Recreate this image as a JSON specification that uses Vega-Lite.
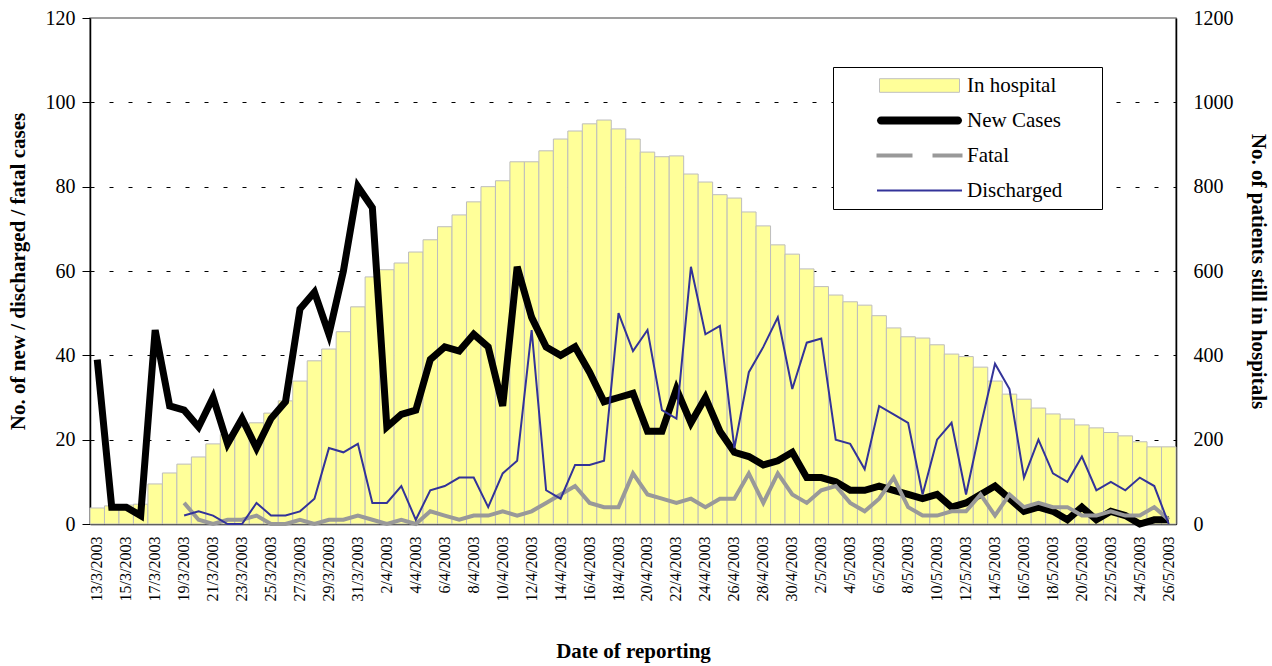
{
  "$schema": "https://vega.github.io/schema/vega-lite/v6.json",
  "width": 1086,
  "height": 506,
  "autosize": {"type": "none"},
  "padding": {"left": 90, "top": 18, "right": 96, "bottom": 142},
  "background": "white",
  "config": {
    "font": "Liberation Serif",
    "view": {"stroke": "#808080", "strokeWidth": 1.5},
    "axis": {"labelFont": "Liberation Serif", "titleFont": "Liberation Serif", "labelColor": "black", "titleColor": "black", "domainColor": "black", "tickColor": "black", "domainWidth": 1.5}
  },
  "data": {
    "values": [
      {"date": "13/3/2003", "hospital": 38, "newCases": 39, "fatal": null, "discharged": null},
      {"date": "14/3/2003", "hospital": 43, "newCases": 4, "fatal": null, "discharged": null},
      {"date": "15/3/2003", "hospital": 45, "newCases": 4, "fatal": null, "discharged": null},
      {"date": "16/3/2003", "hospital": 47, "newCases": 2, "fatal": null, "discharged": null},
      {"date": "17/3/2003", "hospital": 95, "newCases": 46, "fatal": null, "discharged": null},
      {"date": "18/3/2003", "hospital": 121, "newCases": 28, "fatal": null, "discharged": null},
      {"date": "19/3/2003", "hospital": 142, "newCases": 27, "fatal": 5, "discharged": 2},
      {"date": "20/3/2003", "hospital": 159, "newCases": 23, "fatal": 1, "discharged": 3},
      {"date": "21/3/2003", "hospital": 190, "newCases": 30, "fatal": 0, "discharged": 2},
      {"date": "22/3/2003", "hospital": 212, "newCases": 19, "fatal": 1, "discharged": 0},
      {"date": "23/3/2003", "hospital": 230, "newCases": 25, "fatal": 1, "discharged": 0},
      {"date": "24/3/2003", "hospital": 240, "newCases": 18, "fatal": 2, "discharged": 5},
      {"date": "25/3/2003", "hospital": 263, "newCases": 25, "fatal": 0, "discharged": 2},
      {"date": "26/3/2003", "hospital": 292, "newCases": 29, "fatal": 0, "discharged": 2},
      {"date": "27/3/2003", "hospital": 339, "newCases": 51, "fatal": 1, "discharged": 3},
      {"date": "28/3/2003", "hospital": 387, "newCases": 55, "fatal": 0, "discharged": 6},
      {"date": "29/3/2003", "hospital": 415, "newCases": 45, "fatal": 1, "discharged": 18},
      {"date": "30/3/2003", "hospital": 456, "newCases": 60, "fatal": 1, "discharged": 17},
      {"date": "31/3/2003", "hospital": 515, "newCases": 80, "fatal": 2, "discharged": 19},
      {"date": "1/4/2003", "hospital": 586, "newCases": 75, "fatal": 1, "discharged": 5},
      {"date": "2/4/2003", "hospital": 603, "newCases": 23, "fatal": 0, "discharged": 5},
      {"date": "3/4/2003", "hospital": 619, "newCases": 26, "fatal": 1, "discharged": 9},
      {"date": "4/4/2003", "hospital": 645, "newCases": 27, "fatal": 0, "discharged": 1},
      {"date": "5/4/2003", "hospital": 674, "newCases": 39, "fatal": 3, "discharged": 8},
      {"date": "6/4/2003", "hospital": 705, "newCases": 42, "fatal": 2, "discharged": 9},
      {"date": "7/4/2003", "hospital": 733, "newCases": 41, "fatal": 1, "discharged": 11},
      {"date": "8/4/2003", "hospital": 764, "newCases": 45, "fatal": 2, "discharged": 11},
      {"date": "9/4/2003", "hospital": 800, "newCases": 42, "fatal": 2, "discharged": 4},
      {"date": "10/4/2003", "hospital": 814, "newCases": 28, "fatal": 3, "discharged": 12},
      {"date": "11/4/2003", "hospital": 859, "newCases": 61, "fatal": 2, "discharged": 15},
      {"date": "12/4/2003", "hospital": 859, "newCases": 49, "fatal": 3, "discharged": 46},
      {"date": "13/4/2003", "hospital": 885, "newCases": 42, "fatal": 5, "discharged": 8},
      {"date": "14/4/2003", "hospital": 913, "newCases": 40, "fatal": 7, "discharged": 6},
      {"date": "15/4/2003", "hospital": 932, "newCases": 42, "fatal": 9, "discharged": 14},
      {"date": "16/4/2003", "hospital": 949, "newCases": 36, "fatal": 5, "discharged": 14},
      {"date": "17/4/2003", "hospital": 958, "newCases": 29, "fatal": 4, "discharged": 15},
      {"date": "18/4/2003", "hospital": 937, "newCases": 30, "fatal": 4, "discharged": 50},
      {"date": "19/4/2003", "hospital": 913, "newCases": 31, "fatal": 12, "discharged": 41},
      {"date": "20/4/2003", "hospital": 882, "newCases": 22, "fatal": 7, "discharged": 46},
      {"date": "21/4/2003", "hospital": 871, "newCases": 22, "fatal": 6, "discharged": 27},
      {"date": "22/4/2003", "hospital": 873, "newCases": 32, "fatal": 5, "discharged": 25},
      {"date": "23/4/2003", "hospital": 830, "newCases": 24, "fatal": 6, "discharged": 61},
      {"date": "24/4/2003", "hospital": 811, "newCases": 30, "fatal": 4, "discharged": 45},
      {"date": "25/4/2003", "hospital": 781, "newCases": 22, "fatal": 6, "discharged": 47},
      {"date": "26/4/2003", "hospital": 773, "newCases": 17, "fatal": 6, "discharged": 18},
      {"date": "27/4/2003", "hospital": 740, "newCases": 16, "fatal": 12, "discharged": 36},
      {"date": "28/4/2003", "hospital": 707, "newCases": 14, "fatal": 5, "discharged": 42},
      {"date": "29/4/2003", "hospital": 662, "newCases": 15, "fatal": 12, "discharged": 49},
      {"date": "30/4/2003", "hospital": 640, "newCases": 17, "fatal": 7, "discharged": 32},
      {"date": "1/5/2003", "hospital": 605, "newCases": 11, "fatal": 5, "discharged": 43},
      {"date": "2/5/2003", "hospital": 563, "newCases": 11, "fatal": 8, "discharged": 44},
      {"date": "3/5/2003", "hospital": 543, "newCases": 10, "fatal": 9, "discharged": 20},
      {"date": "4/5/2003", "hospital": 527, "newCases": 8, "fatal": 5, "discharged": 19},
      {"date": "5/5/2003", "hospital": 519, "newCases": 8, "fatal": 3, "discharged": 13},
      {"date": "6/5/2003", "hospital": 494, "newCases": 9, "fatal": 6, "discharged": 28},
      {"date": "7/5/2003", "hospital": 465, "newCases": 8, "fatal": 11, "discharged": 26},
      {"date": "8/5/2003", "hospital": 444, "newCases": 7, "fatal": 4, "discharged": 24},
      {"date": "9/5/2003", "hospital": 441, "newCases": 6, "fatal": 2, "discharged": 7},
      {"date": "10/5/2003", "hospital": 425, "newCases": 7, "fatal": 2, "discharged": 20},
      {"date": "11/5/2003", "hospital": 403, "newCases": 4, "fatal": 3, "discharged": 24},
      {"date": "12/5/2003", "hospital": 397, "newCases": 5, "fatal": 3, "discharged": 7},
      {"date": "13/5/2003", "hospital": 372, "newCases": 7, "fatal": 7, "discharged": 23},
      {"date": "14/5/2003", "hospital": 339, "newCases": 9, "fatal": 2, "discharged": 38},
      {"date": "15/5/2003", "hospital": 308, "newCases": 6, "fatal": 7, "discharged": 32},
      {"date": "16/5/2003", "hospital": 296, "newCases": 3, "fatal": 4, "discharged": 11},
      {"date": "17/5/2003", "hospital": 275, "newCases": 4, "fatal": 5, "discharged": 20},
      {"date": "18/5/2003", "hospital": 261, "newCases": 3, "fatal": 4, "discharged": 12},
      {"date": "19/5/2003", "hospital": 249, "newCases": 1, "fatal": 4, "discharged": 10},
      {"date": "20/5/2003", "hospital": 235, "newCases": 4, "fatal": 2, "discharged": 16},
      {"date": "21/5/2003", "hospital": 228, "newCases": 1, "fatal": 2, "discharged": 8},
      {"date": "22/5/2003", "hospital": 217, "newCases": 3, "fatal": 3, "discharged": 10},
      {"date": "23/5/2003", "hospital": 209, "newCases": 2, "fatal": 2, "discharged": 8},
      {"date": "24/5/2003", "hospital": 195, "newCases": 0, "fatal": 2, "discharged": 11},
      {"date": "25/5/2003", "hospital": 183, "newCases": 1, "fatal": 4, "discharged": 9},
      {"date": "26/5/2003", "hospital": 183, "newCases": 1, "fatal": 1, "discharged": 0}
    ]
  },
  "layer": [
    {
      "mark": {"type": "bar", "fill": "#FFFF99", "stroke": "#bdbdbd", "strokeWidth": 1},
      "encoding": {
        "x": {
          "field": "date", "type": "ordinal", "sort": null,
          "scale": {"paddingInner": 0, "paddingOuter": 0},
          "axis": {
            "title": "Date of reporting", "titleFontSize": 21, "titleFontWeight": "bold", "titleFont": "Liberation Serif",
            "titleY": 133, "titleBaseline": "alphabetic",
            "labelAngle": -90, "labelFontSize": 16, "labelFont": "Liberation Serif", "labelPadding": 12, "ticks": false,
            "labelOverlap": false,
            "labelExpr": "(split(datum.value,'/')[1] == '3') == (parseInt(split(datum.value,'/')[0]) % 2 == 1) ? datum.value : ''"
          }
        },
        "y": {
          "field": "hospital", "type": "quantitative",
          "scale": {"domain": [0, 1200], "nice": false},
          "axis": {
            "orient": "right", "values": [0, 200, 400, 600, 800, 1000, 1200], "format": "d",
            "grid": false, "ticks": false, "labelPadding": 17, "labelFontSize": 20, "labelFont": "Liberation Serif",
            "title": "No. of patients still in hospitals", "titleFontSize": 21, "titleFontWeight": "bold", "titleFont": "Liberation Serif",
            "titleAngle": 90, "titleX": 81, "titleY": 253, "titleAlign": "center", "titleBaseline": "middle"
          }
        }
      }
    },
    {
      "layer": [
        {
          "mark": {"type": "line", "strokeWidth": 7, "strokeJoin": "miter"},
          "encoding": {
            "x": {"field": "date", "type": "ordinal", "sort": null},
            "y": {
              "field": "newCases", "type": "quantitative",
              "scale": {"domain": [0, 120], "nice": false},
              "axis": {
                "values": [0, 20, 40, 60, 80, 100, 120],
                "grid": true, "gridDash": [4, 15],
                "gridColor": {"condition": {"test": "datum.value === 0 || datum.value === 120", "value": "transparent"}, "value": "#000000"},
                "gridWidth": 1, "tickSize": 8, "labelPadding": 7, "labelFontSize": 20, "labelFont": "Liberation Serif",
                "title": "No. of new / discharged / fatal cases", "titleFontSize": 21, "titleFontWeight": "bold", "titleFont": "Liberation Serif",
                "titleAngle": -90, "titleX": -72, "titleY": 253, "titleAlign": "center", "titleBaseline": "middle"
              }
            },
            "color": {
              "datum": "New Cases",
              "scale": {"domain": ["In hospital", "New Cases", "Fatal", "Discharged"], "range": ["#c0c0c0", "#000000", "#999999", "#333399"]},
              "legend": {
                "title": null, "orient": "none", "legendX": 743, "legendY": 49,
                "strokeColor": "black", "fillColor": "white", "padding": 8,
                "labelFont": "Liberation Serif", "labelFontSize": 21, "labelColor": "black", "labelLimit": 400,
                "symbolSize": 100, "symbolOffset": 68, "labelOffset": 37, "rowPadding": 13,
                "labelExpr": "datum.label + '\u00a0\u00a0\u00a0\u00a0\u00a0\u00a0\u200b'",
                "symbolType": {"expr": "datum.value === 'In hospital' ? 'M-8,-1.36H8V1.36H-8Z' : datum.value === 'New Cases' ? 'M-7.7,-0.8H7.7A0.8,0.8 0 0 1 7.7,0.8H-7.7A0.8,0.8 0 0 1 -7.7,-0.8Z' : datum.value === 'Fatal' ? 'M-8.6,-0.4H-1.4V0.4H-8.6Z M2.6,-0.4H8.6V0.4H2.6Z' : 'M-8.5,-0.22H8.5V0.22H-8.5Z'"},
                "symbolFillColor": {"expr": "datum.value === 'In hospital' ? '#FFFF99' : datum.value === 'New Cases' ? '#000000' : datum.value === 'Fatal' ? '#999999' : '#333399'"},
                "symbolStrokeWidth": {"expr": "datum.value === 'In hospital' ? 1 : 0"},
                "symbolOpacity": 1
              }
            }
          }
        },
        {
          "mark": {"type": "line", "strokeWidth": 4},
          "encoding": {
            "x": {"field": "date", "type": "ordinal", "sort": null},
            "y": {"field": "fatal", "type": "quantitative"},
            "color": {"datum": "Fatal"}
          }
        },
        {
          "mark": {"type": "line", "strokeWidth": 2},
          "encoding": {
            "x": {"field": "date", "type": "ordinal", "sort": null},
            "y": {"field": "discharged", "type": "quantitative"},
            "color": {"datum": "Discharged"}
          }
        }
      ]
    }
  ],
  "resolve": {"scale": {"y": "independent"}}
}
